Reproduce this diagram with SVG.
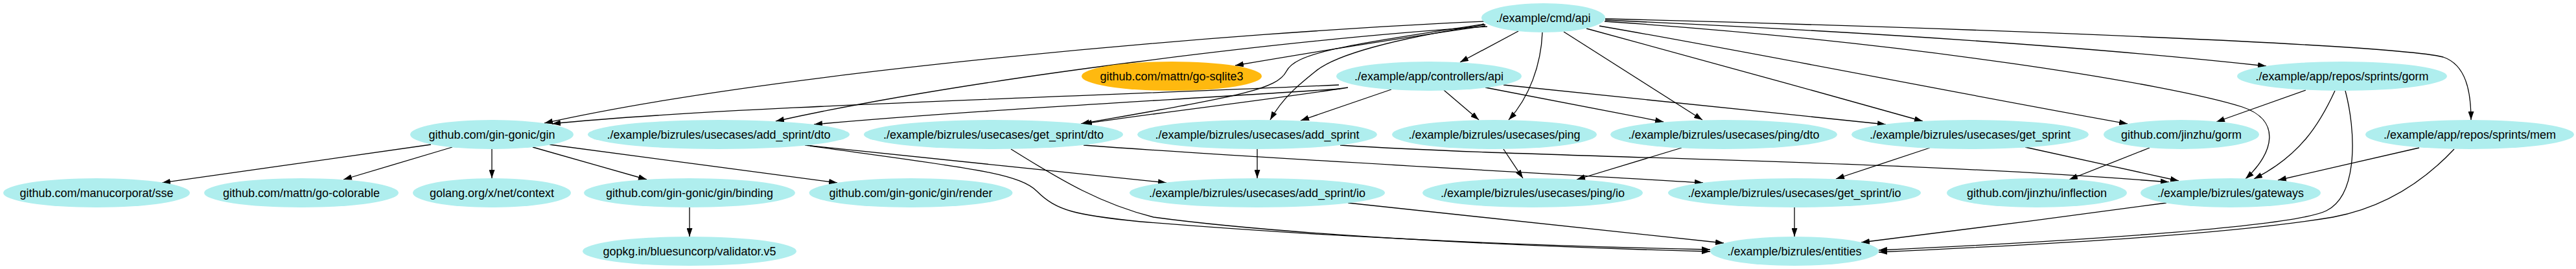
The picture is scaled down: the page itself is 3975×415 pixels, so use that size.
<svg xmlns="http://www.w3.org/2000/svg" width="3975" height="415" viewBox="0 0 3975 415">
<defs>
<style>
.n ellipse{fill:#afeeee;stroke:none}
.n.o ellipse{fill:#ffb90f}
.n text{font-family:"Liberation Sans",Arial,Helvetica,sans-serif;font-size:18px;fill:#000;text-anchor:middle}
#edges path{fill:none;stroke:#000;stroke-width:1.3;marker-end:url(#ah)}
</style>
<marker id="ah" viewBox="0 0 13 9" refX="13" refY="4.5" markerWidth="13" markerHeight="9" orient="auto" markerUnits="userSpaceOnUse"><path d="M0,0 L13,4.5 L0,9 z" fill="#000"/></marker>
</defs>
<rect width="3975" height="415" fill="#fff"/>
<g id="edges">
<path d="M2290,33 C1900,50 1200,110 840,190"/>
<path d="M2066,131 C1700,148 1100,165 852,191"/>
<path d="M2292,40 C2150,60 2000,85 1906,101"/>
<path d="M2343,48 L2253,96"/>
<path d="M2295,41 C2000,60 1500,120 1197,187"/>
<path d="M2290,37 C2080,70 2000,80 1985,110 C1970,140 1900,150 1668,191"/>
<path d="M2080,135 C1950,155 1800,172 1672,191"/>
<path d="M2068,137 C1800,155 1500,170 1256,192"/>
<path d="M2292,38 C2150,60 2060,85 2030,110 C2005,130 1980,150 1960,185"/>
<path d="M2147,138 L2007,186"/>
<path d="M2228,139 L2282,185"/>
<path d="M2380,50 C2378,100 2360,150 2328,185"/>
<path d="M2292,135 L2567,188"/>
<path d="M2413,49 L2627,185"/>
<path d="M2320,131 L2910,192"/>
<path d="M2448,44 C2600,85 2800,140 2967,187"/>
<path d="M2468,40 C2700,80 3000,140 3283,191"/>
<path d="M2476,33 C2950,65 3350,130 3460,165 C3520,185 3510,235 3465,276"/>
<path d="M2477,31 C2900,50 3250,75 3497,102"/>
<path d="M2477,29 C3100,45 3700,70 3770,88 C3805,100 3813,140 3813,185"/>
<path d="M665,223 L250,282"/>
<path d="M698,227 L530,277"/>
<path d="M759,230 L759,275"/>
<path d="M822,227 L998,277"/>
<path d="M848,223 L1292,282"/>
<path d="M1064,320 L1064,365"/>
<path d="M1242,224 L1800,282"/>
<path d="M1250,225 C1480,258 1570,265 1600,295 C1630,325 1660,332 1760,342 C2100,370 2400,380 2639,385"/>
<path d="M1560,230 C1640,280 1700,315 1780,335 C2000,365 2400,382 2639,388"/>
<path d="M1672,224 C2000,248 2400,268 2628,282"/>
<path d="M1940,230 L1940,275"/>
<path d="M2068,224 C2400,245 2900,245 3347,281"/>
<path d="M2080,313 C2300,337 2500,358 2660,375"/>
<path d="M2320,230 L2350,275"/>
<path d="M2595,228 L2433,277"/>
<path d="M2978,228 L2833,276"/>
<path d="M3125,227 L3362,279"/>
<path d="M2769,320 L2769,365"/>
<path d="M3317,228 L3193,277"/>
<path d="M3558,139 L3420,188"/>
<path d="M3603,140 C3580,190 3550,240 3478,276"/>
<path d="M3619,140 C3635,200 3640,300 3590,325 C3540,350 3200,372 2899,386"/>
<path d="M3733,228 L3515,278"/>
<path d="M3787,230 C3740,280 3680,320 3600,335 C3450,360 3200,375 2899,389"/>
<path d="M3343,313 C3200,333 3000,358 2872,374"/>
</g>
<g id="n1" class="n"><ellipse cx="2381.5" cy="27.5" rx="95.5" ry="22.5"/><text x="2381.5" y="33.5">./example/cmd/api</text></g>
<g id="n2" class="n o"><ellipse cx="1808" cy="117.5" rx="139" ry="22.5"/><text x="1808" y="123.5">github.com/mattn/go-sqlite3</text></g>
<g id="n3" class="n"><ellipse cx="2205" cy="117.5" rx="143" ry="22.5"/><text x="2205" y="123.5">./example/app/controllers/api</text></g>
<g id="n4" class="n"><ellipse cx="3614" cy="117.5" rx="162" ry="22.5"/><text x="3614" y="123.5">./example/app/repos/sprints/gorm</text></g>
<g id="n5" class="n"><ellipse cx="759" cy="207.5" rx="126" ry="22.5"/><text x="759" y="213.5">github.com/gin-gonic/gin</text></g>
<g id="n6" class="n"><ellipse cx="1109" cy="207.5" rx="202" ry="22.5"/><text x="1109" y="213.5">./example/bizrules/usecases/add_sprint/dto</text></g>
<g id="n7" class="n"><ellipse cx="1533" cy="207.5" rx="200" ry="22.5"/><text x="1533" y="213.5">./example/bizrules/usecases/get_sprint/dto</text></g>
<g id="n8" class="n"><ellipse cx="1940" cy="207.5" rx="185" ry="22.5"/><text x="1940" y="213.5">./example/bizrules/usecases/add_sprint</text></g>
<g id="n9" class="n"><ellipse cx="2306" cy="207.5" rx="158" ry="22.5"/><text x="2306" y="213.5">./example/bizrules/usecases/ping</text></g>
<g id="n10" class="n"><ellipse cx="2660" cy="207.5" rx="175" ry="22.5"/><text x="2660" y="213.5">./example/bizrules/usecases/ping/dto</text></g>
<g id="n11" class="n"><ellipse cx="3040" cy="207.5" rx="183" ry="22.5"/><text x="3040" y="213.5">./example/bizrules/usecases/get_sprint</text></g>
<g id="n12" class="n"><ellipse cx="3366" cy="207.5" rx="120" ry="22.5"/><text x="3366" y="213.5">github.com/jinzhu/gorm</text></g>
<g id="n13" class="n"><ellipse cx="3811" cy="207.5" rx="161" ry="22.5"/><text x="3811" y="213.5">./example/app/repos/sprints/mem</text></g>
<g id="n14" class="n"><ellipse cx="149" cy="297.5" rx="144" ry="22.5"/><text x="149" y="303.5">github.com/manucorporat/sse</text></g>
<g id="n15" class="n"><ellipse cx="465" cy="297.5" rx="150" ry="22.5"/><text x="465" y="303.5">github.com/mattn/go-colorable</text></g>
<g id="n16" class="n"><ellipse cx="759" cy="297.5" rx="122" ry="22.5"/><text x="759" y="303.5">golang.org/x/net/context</text></g>
<g id="n17" class="n"><ellipse cx="1064" cy="297.5" rx="163" ry="22.5"/><text x="1064" y="303.5">github.com/gin-gonic/gin/binding</text></g>
<g id="n18" class="n"><ellipse cx="1405.5" cy="297.5" rx="157" ry="22.5"/><text x="1405.5" y="303.5">github.com/gin-gonic/gin/render</text></g>
<g id="n19" class="n"><ellipse cx="1940" cy="297.5" rx="197" ry="22.5"/><text x="1940" y="303.5">./example/bizrules/usecases/add_sprint/io</text></g>
<g id="n20" class="n"><ellipse cx="2365" cy="297.5" rx="170" ry="22.5"/><text x="2365" y="303.5">./example/bizrules/usecases/ping/io</text></g>
<g id="n21" class="n"><ellipse cx="2769" cy="297.5" rx="195" ry="22.5"/><text x="2769" y="303.5">./example/bizrules/usecases/get_sprint/io</text></g>
<g id="n22" class="n"><ellipse cx="3143" cy="297.5" rx="139" ry="22.5"/><text x="3143" y="303.5">github.com/jinzhu/inflection</text></g>
<g id="n23" class="n"><ellipse cx="3442" cy="297.5" rx="139" ry="22.5"/><text x="3442" y="303.5">./example/bizrules/gateways</text></g>
<g id="n24" class="n"><ellipse cx="1064" cy="387.5" rx="165" ry="22.5"/><text x="1064" y="393.5">gopkg.in/bluesuncorp/validator.v5</text></g>
<g id="n25" class="n"><ellipse cx="2769" cy="387.5" rx="130" ry="22.5"/><text x="2769" y="393.5">./example/bizrules/entities</text></g>
</svg>
